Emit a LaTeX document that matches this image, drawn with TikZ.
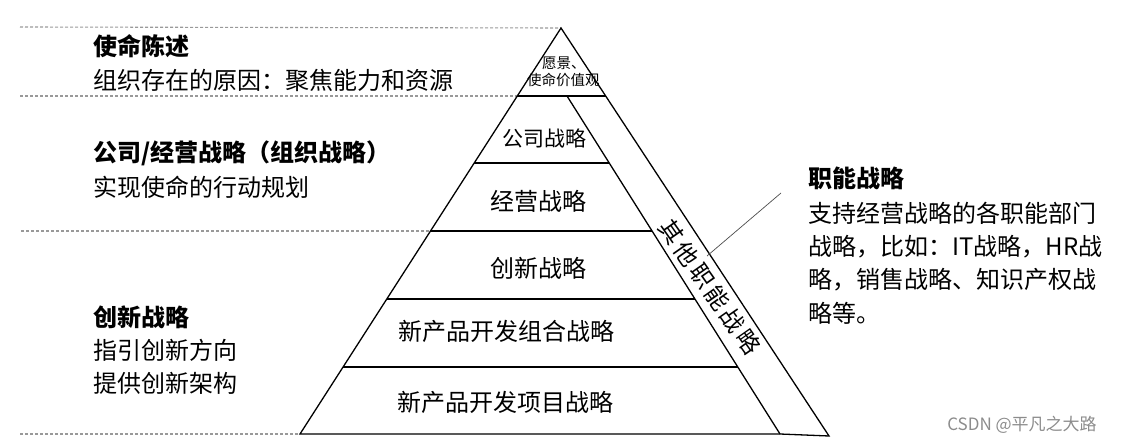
\documentclass[tikz,border=0pt]{standalone}
\usepackage{fontspec}
\setmainfont{Noto Sans CJK SC}
\begin{document}
\begin{tikzpicture}[x=1pt,y=-1pt,
  pyr/.style={line width=1.3pt,black,line join=miter},
  guide/.style={draw=black!40,line width=1.1pt,dash pattern=on 3pt off 2pt},
  lbl/.style={inner sep=0pt,font=\fontsize{24}{28}\selectfont},
  small/.style={inner sep=0pt,font=\fontsize{14.5}{16}\selectfont},
  head/.style={inner sep=0pt,anchor=west,font=\fontsize{24}{28}\selectfont\bfseries},
  body/.style={inner sep=0pt,anchor=west,font=\fontsize{24}{28}\selectfont},
  stripbox/.style={inner sep=0pt,rotate=-55,font=\fontsize{23.5}{26}\selectfont\addfontfeature{LetterSpace=14}}]
\useasboundingbox (0,0) rectangle (1123,443);
% key points
\coordinate (A) at (561,28);
\coordinate (L1) at (517.3,96);
\coordinate (L2) at (474.2,163);
\coordinate (L3) at (430.5,231);
\coordinate (L4) at (386.8,299);
\coordinate (L5) at (343.1,367);
\coordinate (BL) at (300,434);
\coordinate (I1) at (567,96);
\coordinate (I2) at (609.2,163);
\coordinate (I3) at (652.1,231);
\coordinate (I4) at (694.9,299);
\coordinate (I5) at (737.8,367);
\coordinate (BI) at (780,434);
\coordinate (O1) at (605.7,96);
\coordinate (BO) at (829,436);
\coordinate (OC) at (707,256);
\coordinate (G0) at (20,27);
\coordinate (G1) at (20,96);
\coordinate (G2) at (21,231);
\coordinate (G3) at (20,434);
\coordinate (CE) at (781,193);
% guide lines
\draw[guide] (G0) -- (A);
\draw[guide] (G1) -- (L1);
\draw[guide] (G2) -- (L3);
\draw[guide] (G3) -- (BL);
% pyramid
\draw[pyr] (BL) -- (A) -- (BO) -- (BI) -- cycle;
\draw[pyr] (I1) -- (BI);
\draw[line width=1.8pt] (L1) -- (O1);
\draw[pyr] (L2) -- (I2);
\draw[pyr] (L3) -- (I3);
\draw[pyr] (L4) -- (I4);
\draw[pyr] (L5) -- (I5);
% connector
\draw[line width=0.7pt,black!70] (OC) -- (CE);
% pyramid labels
\node[small,anchor=west] (v1) at (542,63) {愿景、};
\node[small,anchor=west] (v2) at (527,80) {使命价值观};
\node[lbl,font=\fontsize{21}{24}\selectfont] (p1) at (544.5,138) {公司战略};
\node[lbl] (p2) at (538.5,201) {经营战略};
\node[lbl] (p3) at (538.5,268) {创新战略};
\node[lbl] (p4) at (506,331) {新产品开发组合战略};
\node[lbl] (p5) at (505.5,402) {新产品开发项目战略};
% strip text
\node[stripbox] (st) at (710,287) {其他职能战略};
% left texts
\node[head] (t1) at (93,46) {使命陈述};
\node[body] (t2) at (93,80) {组织存在的原因：聚焦能力和资源};
\node[head] (t3) at (93,153) {公司/经营战略（组织战略）};
\node[body] (t4) at (93,187) {实现使命的行动规划};
\node[head] (t5) at (93,317) {创新战略};
\node[body] (t6) at (93,350) {指引创新方向};
\node[body] (t7) at (93,383) {提供创新架构};
% right texts
\node[head] (r1) at (808,178) {职能战略};
\node[body] (r2) at (808,213) {支持经营战略的各职能部门};
\node[body] (r3) at (808,247) {战略，比如：IT战略，HR战};
\node[body] (r4) at (808,280) {略，销售战略、知识产权战};
\node[body] (r5) at (808,313) {略等。};
% watermark
\node[inner sep=0pt,text=black!45,font=\fontsize{17}{20}\selectfont] (wm) at (1022,425) {CSDN @平凡之大路};
\end{tikzpicture}
\end{document}
